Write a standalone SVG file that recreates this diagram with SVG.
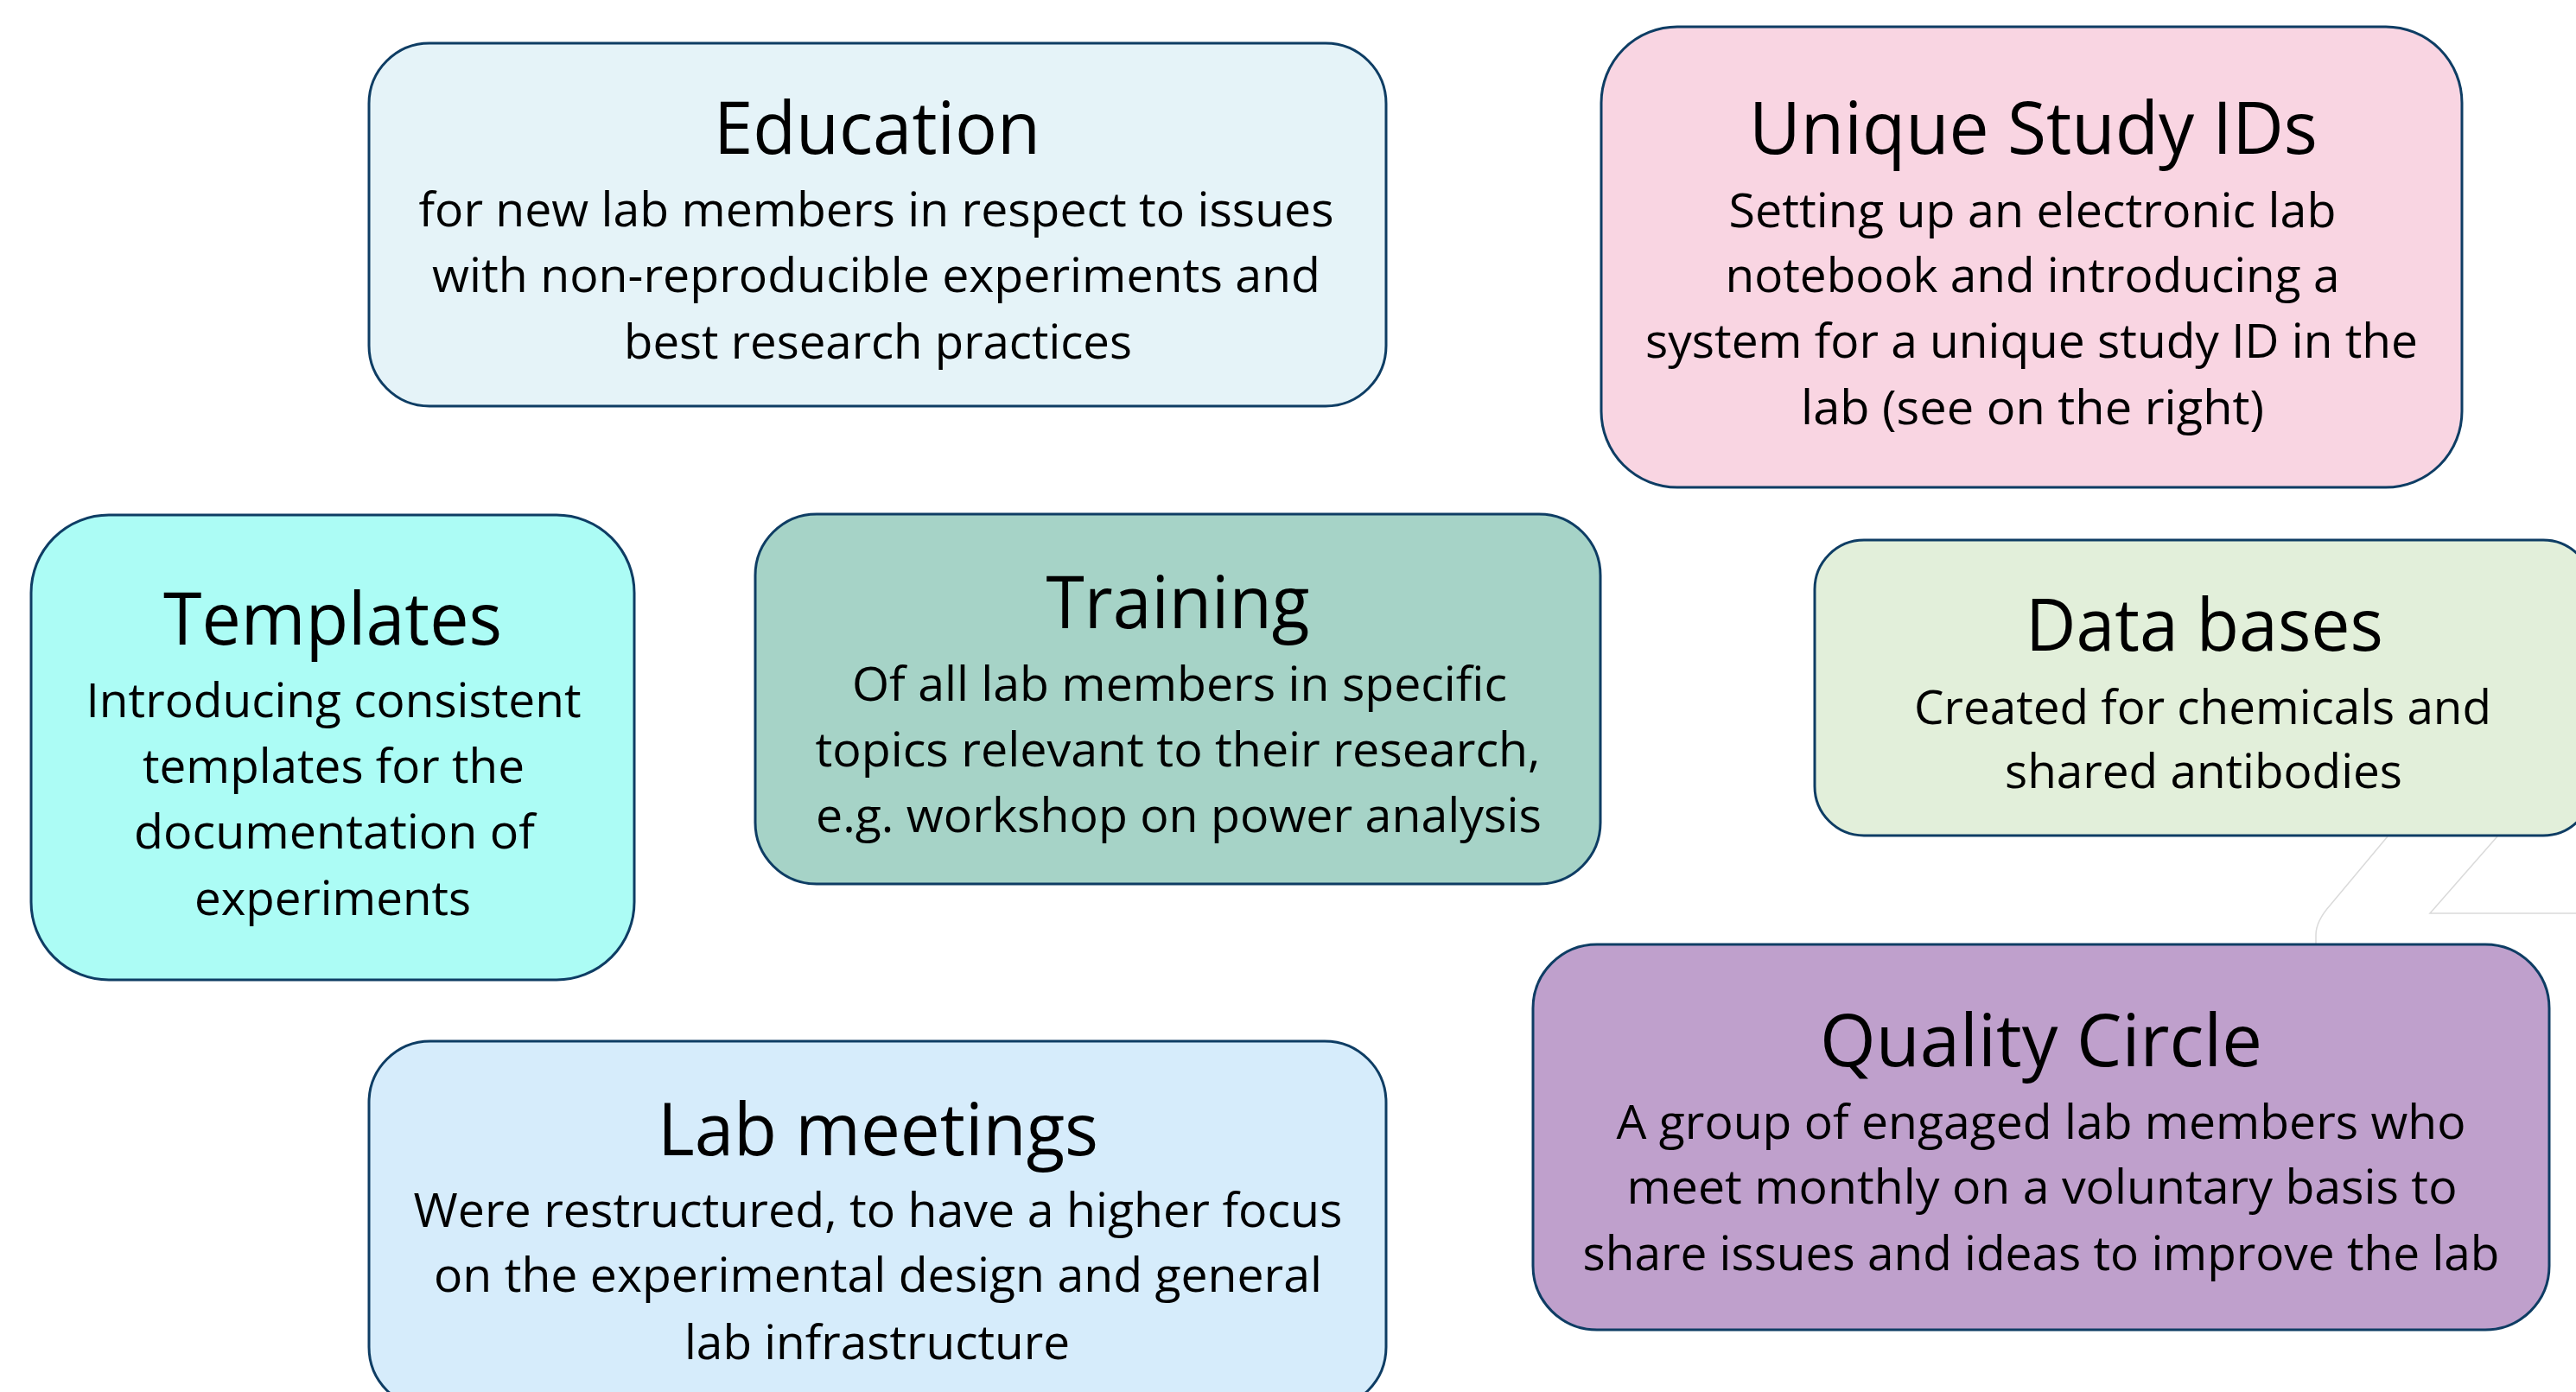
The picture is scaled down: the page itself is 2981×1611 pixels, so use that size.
<svg xmlns="http://www.w3.org/2000/svg" width="2981" height="1611" viewBox="0 0 2981 1611">
<style>
.box{stroke:#0E3D64;stroke-width:3}
.t{font-family:"Open Sans","Noto Sans",sans-serif;fill:#000;text-anchor:middle}
.h{font-size:85px}
.b{font-size:54px}
.c{fill:none;stroke:#DADADA;stroke-width:1.5}
</style>
<rect width="2981" height="1611" fill="#FFFFFF"/>
<g id="connectors">
<path class="c" d="M2763,968 L2697,1047 Q2680,1066 2680,1082 L2680,1092"/>
<path class="c" d="M2890,968 L2812,1057 L2981,1057"/>
</g>
<g id="education">
<rect class="box" x="427" y="50" width="1177" height="420" rx="70" fill="#E5F3F8"/>
<text class="t h" x="1015" y="178" textLength="378" lengthAdjust="spacingAndGlyphs">Education</text>
<text class="t b" x="1014" y="262" textLength="1059" lengthAdjust="spacingAndGlyphs">for new lab members in respect to issues</text>
<text class="t b" x="1014" y="338" textLength="1028" lengthAdjust="spacingAndGlyphs">with non-reproducible experiments and</text>
<text class="t b" x="1016" y="415" textLength="588" lengthAdjust="spacingAndGlyphs">best research practices</text>
</g>
<g id="unique-study-ids">
<rect class="box" x="1853" y="31" width="996" height="533" rx="88" fill="#F9D5E2"/>
<text class="t h" x="2353" y="178" textLength="658" lengthAdjust="spacingAndGlyphs">Unique Study IDs</text>
<text class="t b" x="2352" y="263" textLength="703" lengthAdjust="spacingAndGlyphs">Setting up an electronic lab</text>
<text class="t b" x="2352" y="338" textLength="711" lengthAdjust="spacingAndGlyphs">notebook and introducing a</text>
<text class="t b" x="2351" y="414" textLength="894" lengthAdjust="spacingAndGlyphs">system for a unique study ID in the</text>
<text class="t b" x="2352" y="491" textLength="536" lengthAdjust="spacingAndGlyphs">lab (see on the right)</text>
</g>
<g id="templates">
<rect class="box" x="36" y="596" width="698" height="538" rx="90" fill="#ACFCF5"/>
<text class="t h" x="385" y="746" textLength="392" lengthAdjust="spacingAndGlyphs">Templates</text>
<text class="t b" x="386" y="830" textLength="573" lengthAdjust="spacingAndGlyphs">Introducing consistent</text>
<text class="t b" x="386" y="906" textLength="442" lengthAdjust="spacingAndGlyphs">templates for the</text>
<text class="t b" x="387" y="982" textLength="464" lengthAdjust="spacingAndGlyphs">documentation of</text>
<text class="t b" x="385" y="1059" textLength="320" lengthAdjust="spacingAndGlyphs">experiments</text>
</g>
<g id="training">
<rect class="box" x="874" y="595" width="978" height="428" rx="71" fill="#A6D3C7"/>
<text class="t h" x="1363" y="727" textLength="305" lengthAdjust="spacingAndGlyphs">Training</text>
<text class="t b" x="1365" y="811" textLength="758" lengthAdjust="spacingAndGlyphs">Of all lab members in specific</text>
<text class="t b" x="1363" y="887" textLength="839" lengthAdjust="spacingAndGlyphs">topics relevant to their research,</text>
<text class="t b" x="1364" y="963" textLength="840" lengthAdjust="spacingAndGlyphs">e.g. workshop on power analysis</text>
</g>
<g id="data-bases">
<rect class="box" x="2100" y="625" width="900" height="342" rx="57" fill="#E2EFDA"/>
<text class="t h" x="2551" y="753" textLength="414" lengthAdjust="spacingAndGlyphs">Data bases</text>
<text class="t b" x="2549" y="838" textLength="668" lengthAdjust="spacingAndGlyphs">Created for chemicals and</text>
<text class="t b" x="2550" y="912" textLength="460" lengthAdjust="spacingAndGlyphs">shared antibodies</text>
</g>
<g id="quality-circle">
<rect class="box" x="1774" y="1093" width="1176" height="446" rx="74" fill="#BFA0CC"/>
<text class="t h" x="2362" y="1234" textLength="512" lengthAdjust="spacingAndGlyphs">Quality Circle</text>
<text class="t b" x="2362" y="1318" textLength="983" lengthAdjust="spacingAndGlyphs">A group of engaged lab members who</text>
<text class="t b" x="2363" y="1393" textLength="961" lengthAdjust="spacingAndGlyphs">meet monthly on a voluntary basis to</text>
<text class="t b" x="2362" y="1470" textLength="1061" lengthAdjust="spacingAndGlyphs">share issues and ideas to improve the lab</text>
</g>
<g id="lab-meetings">
<rect class="box" x="427" y="1205" width="1177" height="425" rx="71" fill="#D6ECFB"/>
<text class="t h" x="1016" y="1337" textLength="510" lengthAdjust="spacingAndGlyphs">Lab meetings</text>
<text class="t b" x="1016" y="1420" textLength="1075" lengthAdjust="spacingAndGlyphs">Were restructured, to have a higher focus</text>
<text class="t b" x="1016" y="1495" textLength="1028" lengthAdjust="spacingAndGlyphs">on the experimental design and general</text>
<text class="t b" x="1015" y="1573" textLength="446" lengthAdjust="spacingAndGlyphs">lab infrastructure</text>
</g>
</svg>
